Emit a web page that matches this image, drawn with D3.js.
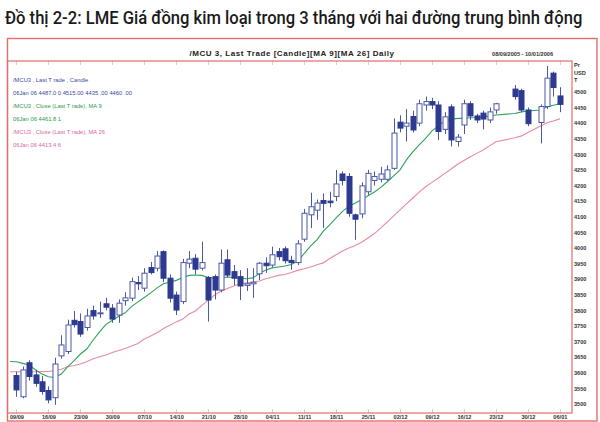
<!DOCTYPE html>
<html><head><meta charset="utf-8">
<script src="https://cdn.jsdelivr.net/npm/d3@7"></script>
<style>body{margin:0;background:#fff;} svg{display:block;}</style>
</head><body><svg id="c" width="600" height="422"></svg>
<script>
// ---------- DATA ----------
const dates = ["2005-09-08","2005-09-09",
"2005-09-12","2005-09-13","2005-09-14","2005-09-15","2005-09-16",
"2005-09-19","2005-09-20","2005-09-21","2005-09-22","2005-09-23",
"2005-09-26","2005-09-27","2005-09-28","2005-09-29","2005-09-30",
"2005-10-03","2005-10-04","2005-10-05","2005-10-06","2005-10-07",
"2005-10-10","2005-10-11","2005-10-12","2005-10-13","2005-10-14",
"2005-10-17","2005-10-18","2005-10-19","2005-10-20","2005-10-21",
"2005-10-24","2005-10-25","2005-10-26","2005-10-27","2005-10-28",
"2005-10-31","2005-11-01","2005-11-02","2005-11-03","2005-11-04",
"2005-11-07","2005-11-08","2005-11-09","2005-11-10","2005-11-11",
"2005-11-14","2005-11-15","2005-11-16","2005-11-17","2005-11-18",
"2005-11-21","2005-11-22","2005-11-23","2005-11-24","2005-11-25",
"2005-11-28","2005-11-29","2005-11-30","2005-12-01","2005-12-02",
"2005-12-05","2005-12-06","2005-12-07","2005-12-08","2005-12-09",
"2005-12-12","2005-12-13","2005-12-14","2005-12-15","2005-12-16",
"2005-12-19","2005-12-20","2005-12-21","2005-12-22","2005-12-23",
"2005-12-28","2005-12-29","2005-12-30",
"2006-01-03","2006-01-04","2006-01-05","2006-01-06"];

const open  = [null,3591,
3523,3632,3593,3571,3543, 3520,3654,3668,3768,3764, 3745,3799,3789,3821,3807,
3785,3831,3839,3889,3871, 3937,3935,3988,3903,3849, 3828,3951,3967,3935,3905,
3908,3865,3962,3924,3908, 3880,3885,3917,3951,3945, 3988,3997,3960,3953,4028,
4106,4121,4152,4150,4165, 4237,4229,4106,4109,4180, 4216,4220,4220,4255,4403,
4390,4421,4400,4458,4469, 4458,4380,4452,4341,4394, 4462,4423,4432,4410,4442,
4509,4504,4442, 4402,4453,4560,4487];
const high  = [null,3604,
3620,3640,3610,3590,3556, 3648,3720,3770,3798,3790, 3805,3815,3828,3840,3820,
3835,3858,3905,3910,3935, 3955,3990,3992,3915,3860, 3965,3990,3980,4020,3910,
3915,3995,3995,3945,3929, 3935,3935,3955,3970,4004, 4000,4005,3975,4025,4125,
4177,4155,4175,4180,4250, 4245,4240,4110,4210,4250, 4245,4260,4265,4415,4425,
4445,4440,4475,4485,4481, 4470,4435,4460,4365,4475, 4470,4430,4440,4450,4465,
4522,4510,4450, 4460,4583,4565,4515];
const low   = [null,3523,
3518,3575,3555,3530,3502, 3497,3645,3660,3745,3715, 3735,3770,3776,3800,3760,
3760,3815,3830,3865,3860, 3915,3925,3890,3825,3785, 3820,3935,3915,3928,3764,
3835,3858,3905,3880,3833, 3862,3840,3897,3920,3938, 3960,3950,3930,3945,4020,
4064,4090,4064,4130,4150, 4200,4100,4026,4095,4170, 4200,4210,4215,4250,4370,
4341,4370,4390,4440,4445, 4346,4365,4325,4325,4365, 4410,4400,4380,4400,4430,
4475,4435,4390, 4335,4445,4485,4435];
const close = [null,3545,
3609,3588,3566,3540,3513, 3628,3689,3753,3754,3724, 3782,3782,3792,3810,3772,
3823,3840,3892,3885,3919, 3921,3974,3903,3839,3801, 3953,3964,3932,3953,3833,
3865,3951,3913,3903,3878, 3885,3890,3951,3943,3978, 3972,3959,3953,4013,4111,
4132,4144,4143,4145,4205, 4216,4111,4092,4199,4239, 4229,4237,4250,4368,4384,
4400,4378,4462,4469,4458, 4373,4420,4346,4355,4462, 4423,4410,4413,4436,4462,
4485,4442,4398, 4453,4544,4514,4460];
const ma9 = [3636,3635,
3630,3625,3609,3596,3587, 3585,3596,3619,3638,3660, 3676,3705,3731,3755,3768,
3781,3792,3812,3827,3841, 3856,3872,3885,3891,3896, 3905,3912,3913,3912,3905,
3903,3904,3907,3905,3903, 3901,3904,3918,3929,3936, 3939,3942,3947,3958,3982,
4006,4026,4054,4074,4096, 4117,4133,4144,4154,4167, 4179,4194,4212,4231,4250,
4282,4308,4330,4351,4375, 4391,4407,4412,4415,4415, 4417,4418,4420,4423,4426,
4431,4436,4439, 4442,4452,4457,4461.8];
const ma26 = [3603,3603,
3603,3603,3603,3604,3604, 3607,3611,3619,3623,3628, 3635,3645,3651,3657,3665,
3671,3678,3686,3694,3708, 3718,3728,3742,3752,3763, 3772,3788,3798,3816,3832,
3849,3862,3870,3878,3885, 3888,3891,3894,3901,3907, 3912,3915,3921,3928,3933,
3939,3946,3952,3966,3978, 3990,4000,4008,4018,4032, 4046,4064,4083,4103,4122,
4141,4160,4179,4196,4210, 4224,4239,4253,4268,4280, 4292,4303,4314,4327,4340,
4353,4359,4370, 4391,4401,4407,4413.5];
const xTickDates = ["2005-09-09","2005-09-16","2005-09-23","2005-09-30","2005-10-07",
"2005-10-14","2005-10-21","2005-10-28","2005-11-04","2005-11-11","2005-11-18",
"2005-11-25","2005-12-02","2005-12-09","2005-12-16","2005-12-23","2005-12-30","2006-01-06"];
const yTicks = [3500,3550,3600,3650,3700,3750,3800,3850,3900,3950,4000,4050,4100,
4150,4200,4250,4300,4350,4400,4450,4500];
const mainTitle = "Đồ thị 2-2: LME Giá đồng kim loại trong 3 tháng với hai đường trung bình động";
const chartTitle = "/MCU 3, Last Trade [Candle][MA  9][MA 26] Daily";
const dateRange = "08/09/2005 - 10/01/2006";
const unitLabels = ["Pr","USD","T"];
const legendLines = [
  ["/MCU3 , Last T rade , Candle","#3d4a9e"],
  ["06Jan 06  4487.0 0  4515.00  4435 .00  4460 .00","#3d4a9e"],
  ["/MCU3 , Close (Last T rade), MA  9","#2e9a52"],
  ["06Jan 06  4461.8 1","#2e9a52"],
  ["/MCU3 , Close (Last T rade), MA  26","#d9679a"],
  ["06Jan 06  4413.4 6","#d9679a"]
];

// ---------- SETUP ----------
const svg = d3.select("#c");
const parse = d3.utcParse("%Y-%m-%d");
const start = parse("2005-09-09");
const wd = d => d3.utcDay.count(start, d) - 2 * d3.utcSunday.count(start, d);

const rows = dates.map((s,i)=>({d:parse(s), o:open[i], h:high[i], l:low[i], c:close[i], m9:ma9[i], m26:ma26[i]}));
rows.forEach(r => r.k = wd(r.d));

const P = {l:7.5, r:572, t:61, b:413};
const x = d3.scaleLinear().domain([-1.4, 86.9]).range([P.l, P.r]);
const y = d3.scaleLinear().domain([3471, 4599]).range([P.b, P.t]);

const frameCol = "#e26d6d";
const sans = "Arial, 'Liberation Sans', sans-serif";

// main title (horizontally condensed to fit the width of the reference)
const tt = svg.append("text").attr("x",0).attr("y",0)
  .style("font-family","Roboto, 'Noto Sans', sans-serif").style("font-size","18px")
  .style("font-weight","500").style("fill","#1a1a1a").text(mainTitle);
const natural = tt.node().getComputedTextLength();
tt.attr("transform",`translate(5,24) scale(${578/natural},1)`);

// outer frame
svg.append("rect").attr("x",7.5).attr("y",38.5).attr("width",589.5).attr("height",382.5)
  .attr("fill","none").attr("stroke",frameCol).attr("stroke-width",1.4);

// chart title
svg.append("text").attr("x",292).attr("y",56).attr("text-anchor","middle")
  .style("font-family",sans).style("font-size","8px")
  .style("font-weight","bold").style("letter-spacing","0.55px").style("fill","#222")
  .text(chartTitle);
svg.append("text").attr("x",553).attr("y",56).attr("text-anchor","end")
  .style("font-family",sans).style("font-size","5.6px")
  .style("font-weight","bold").style("fill","#333").text(dateRange);

// clip
svg.append("clipPath").attr("id","clip").append("rect")
  .attr("x",P.l).attr("y",P.t).attr("width",P.r-P.l).attr("height",P.b-P.t);

// gray tick marks at weekly positions
const xt = xTickDates.map(parse);
const tg = svg.append("g").attr("stroke","#c8c8c8").attr("stroke-width",0.8);
xt.forEach(d=>{
  const xx = Math.round(x(wd(d)))+0.5;
  tg.append("line").attr("x1",xx).attr("x2",xx).attr("y1",P.t).attr("y2",P.t+4);
  tg.append("line").attr("x1",xx).attr("x2",xx).attr("y1",P.b-4).attr("y2",P.b);
});

const g = svg.append("g").attr("clip-path","url(#clip)");

// MA lines
const line = key => d3.line().x(r=>x(r.k)).y(r=>y(r[key]));
g.append("path").datum(rows).attr("d",line("m26")).attr("fill","none")
  .attr("stroke","#e58aa8").attr("stroke-width",1.1);
g.append("path").datum(rows).attr("d",line("m9")).attr("fill","none")
  .attr("stroke","#2fa35a").attr("stroke-width",1.1);

// candles
const cs = rows.filter(r=>r.o!=null);
const bw = 5;
const cg = g.append("g");
cg.selectAll("line.w").data(cs).join("line").attr("class","w")
  .attr("x1",r=>Math.round(x(r.k))+0.5).attr("x2",r=>Math.round(x(r.k))+0.5)
  .attr("y1",r=>y(r.h)).attr("y2",r=>y(r.l))
  .attr("stroke","#4a58a6").attr("stroke-width",1);
cg.selectAll("rect.b").data(cs).join("rect").attr("class","b")
  .attr("x",r=>Math.round(x(r.k))-bw/2+0.5)
  .attr("y",r=>y(Math.max(r.o,r.c)))
  .attr("width",bw)
  .attr("height",r=>Math.max(1,Math.abs(y(r.o)-y(r.c))))
  .attr("fill",r=>r.c<r.o?"#2d3a8f":"#ffffff")
  .attr("stroke",r=>r.c<r.o?"#2d3a8f":"#4a58a6").attr("stroke-width",1);

// plot frame
svg.append("rect").attr("x",P.l).attr("y",P.t).attr("width",P.r-P.l).attr("height",P.b-P.t)
  .attr("fill","none").attr("stroke",frameCol).attr("stroke-width",1.2);

// right axis
const ya = svg.append("g").attr("transform",`translate(${P.r},0)`)
  .call(d3.axisRight(y).tickValues(yTicks).tickSize(0).tickPadding(2).tickFormat(d3.format("d")));
ya.select(".domain").remove();
ya.selectAll("text").style("font-family",sans)
  .style("font-size","5.6px").style("font-weight","bold").style("fill","#333");
unitLabels.forEach((t,i)=>{
  svg.append("text").attr("x",574).attr("y",67+i*7.6)
   .style("font-family",sans).style("font-size","5.6px")
   .style("font-weight","bold").style("fill","#333").text(t);
});

// bottom axis
const xa = svg.append("g").attr("transform",`translate(0,${P.b})`)
  .call(d3.axisBottom(x).tickValues(xt.map(wd)).tickSize(0).tickPadding(2)
    .tickFormat((k,i)=>d3.utcFormat("%d/%m")(xt[i])));
xa.select(".domain").remove();
xa.selectAll("text").style("font-family",sans)
  .style("font-size","5.6px").style("font-weight","bold").style("fill","#333");

// legend
legendLines.forEach((l,i)=>{
  svg.append("text").attr("x",13).attr("y",82+i*12.9)
    .style("font-family",sans).style("font-size","5.8px")
    .style("fill",l[1]).text(l[0]);
});
</script></body></html>
